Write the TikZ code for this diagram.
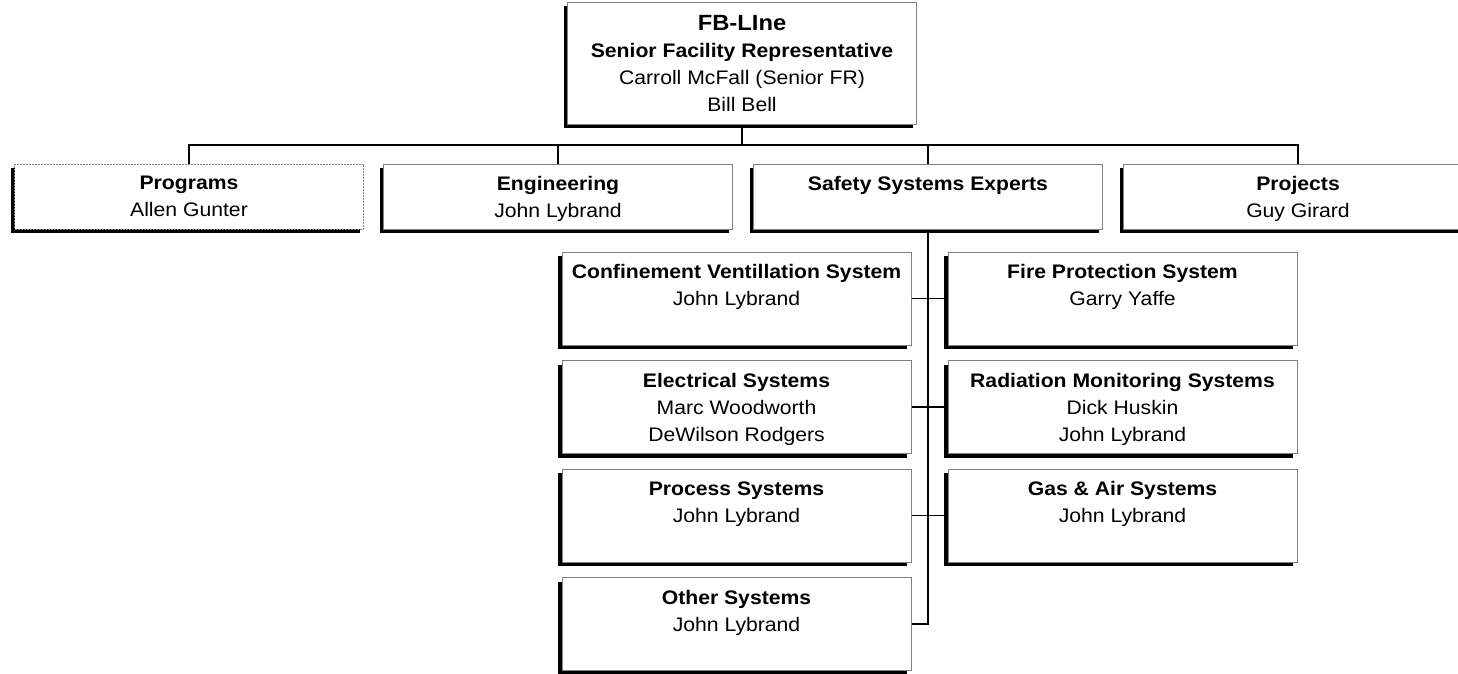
\documentclass[tikz,border=0pt]{standalone}
\usepackage{fontspec}
\setmainfont{Liberation Sans}[FakeStretch=1.08]
\usetikzlibrary{shadows}

\begin{document}
\begin{tikzpicture}[x=1pt, y=-1pt,
    unit/.style={draw=gray, line width=1pt, fill=white, align=center, inner sep=0pt,
        text depth=0pt, minimum width=349pt, font=\fontsize{19.6}{27}\selectfont,
        general shadow={fill=black, shadow xshift=-4pt, shadow yshift=-4pt}},
    wide/.style={unit, minimum height=65pt},
    tall/.style={unit, minimum height=93pt},
    link/.style={line width=1.2pt}]
                \useasboundingbox (0,0) rectangle (1458,673);

                % Nodes
                \node[unit, minimum height=122pt] (0) at (742,63) {{\fontsize{22}{27}\selectfont\bfseries FB-LIne}\\\textbf{Senior Facility Representative}\\Carroll McFall (Senior FR)\\Bill Bell};
                \node[wide, dash pattern=on 2pt off 1pt] (1) at (189,196.5) {\textbf{Programs}\\Allen Gunter};
                \node[wide] (2) at (558,196.5) {\textbf{Engineering}\\John Lybrand};
                \node[wide] (3) at (928,196.5) {\textbf{Safety Systems Experts}\\~};
                \node[wide] (4) at (1298,196.5) {\textbf{Projects}\\Guy Girard};
                \node[tall] (5) at (736.5,298.5) {\textbf{Confinement Ventillation System}\\John Lybrand\\~};
                \node[tall] (6) at (736.5,407) {\textbf{Electrical Systems}\\Marc Woodworth\\DeWilson Rodgers};
                \node[tall] (7) at (736.5,515.5) {\textbf{Process Systems}\\John Lybrand\\~};
                \node[tall] (8) at (736.5,624) {\textbf{Other Systems}\\John Lybrand\\~};
                \node[tall] (9) at (1122.5,298.5) {\textbf{Fire Protection System}\\Garry Yaffe\\~};
                \node[tall] (10) at (1122.5,407) {\textbf{Radiation Monitoring Systems}\\Dick Huskin\\John Lybrand};
                \node[tall] (11) at (1122.5,515.5) {\textbf{Gas \& Air Systems}\\John Lybrand\\~};
                \coordinate (bus) at (742,145);

                % Edges
                \draw[link] (0.south) -- (bus);
                \draw[link] (1.north) |- (bus) -| (4.north);
                \draw[link] (2.north) -- (2.north |- bus);
                \draw[link] (3.north) -- (3.north |- bus);
                \draw[link] (3.south) |- (8.east);
                \draw[link] (5.east) -- (9.west);
                \draw[link] (6.east) -- (10.west);
                \draw[link] (7.east) -- (11.west);
            \end{tikzpicture}
\end{document}
